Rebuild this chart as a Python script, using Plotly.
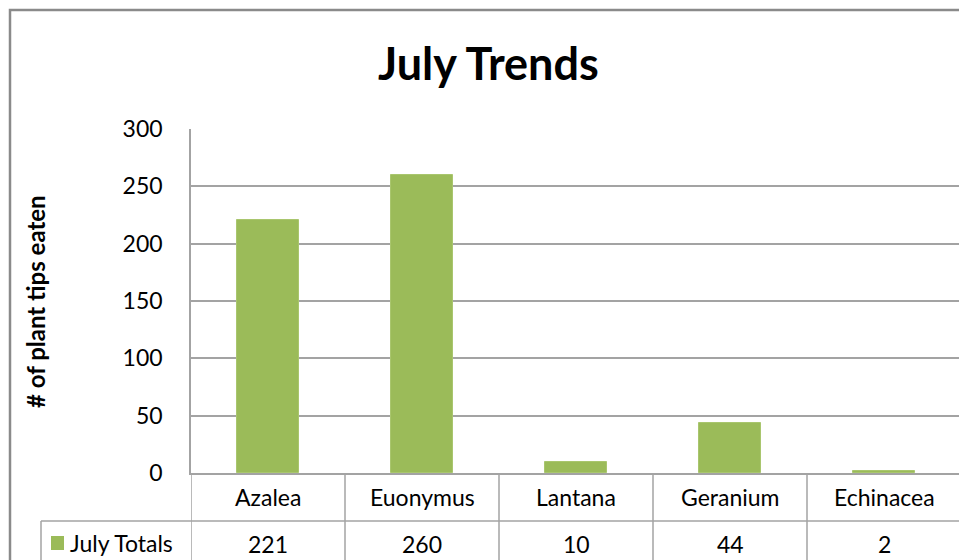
import plotly.graph_objects as go

categories = ["Azalea", "Euonymus", "Lantana", "Geranium", "Echinacea"]
july_totals = [221, 260, 10, 44, 2]
series_name = "July Totals"
y_ticks = [0, 50, 100, 150, 200, 250, 300]

W, H = 959, 560
L, T, B = 191, 129, 87
R = 0
PW = W - L - R
PH = H - T - B
FONT = "Lato"
GREEN = "#9BBB59"
GRID = "#A3A3A3"

def px(x):
    return (x - L) / PW

def py(y):
    return (H - B - y) / PH

x_idx = list(range(len(categories)))
cat_w = 154.0
span = PW / cat_w

fig = go.Figure()
fig.add_trace(go.Bar(
    x=x_idx, y=july_totals, width=0.4, name=series_name,
    marker=dict(color=GREEN, line=dict(color="#A9C66E", width=1)),
    showlegend=False, hoverinfo="x+y",
))

annotations = []
shapes = []

# title
annotations.append(dict(text="<b>July Trends</b>", x=px(488), y=py(63), xref="paper", yref="paper",
                        showarrow=False, xanchor="center", yanchor="middle",
                        font=dict(family=FONT, size=45, color="#000000")))
# y axis title
annotations.append(dict(text="<b># of plant tips eaten</b>", x=px(35), y=py(302), xref="paper", yref="paper",
                        showarrow=False, textangle=-90, xanchor="center", yanchor="middle",
                        font=dict(family=FONT, size=24, color="#000000")))

# data table: category row and value row
for i, (c, v) in enumerate(zip(categories, july_totals)):
    annotations.append(dict(text=c, x=i, y=py(497), xref="x", yref="paper", showarrow=False,
                            xanchor="center", yanchor="middle",
                            font=dict(family=FONT, size=23, color="#000000")))
    annotations.append(dict(text=str(v), x=i, y=py(544), xref="x", yref="paper", showarrow=False,
                            xanchor="center", yanchor="middle",
                            font=dict(family=FONT, size=23, color="#000000")))

# legend key in table
annotations.append(dict(text=series_name, x=px(68), y=py(543), xref="paper", yref="paper", showarrow=False,
                        xanchor="left", yanchor="middle",
                        font=dict(family=FONT, size=23, color="#000000")))
shapes.append(dict(type="rect", xref="paper", yref="paper", x0=px(51), x1=px(64), y0=py(536), y1=py(550),
                   fillcolor=GREEN, line=dict(width=0)))

# table lines
for i in range(len(categories)):
    xb = i - 0.5
    shapes.append(dict(type="line", xref="x", yref="paper", x0=xb, x1=xb, y0=0, y1=py(575),
                       line=dict(color=GRID, width=1.5)))
shapes.append(dict(type="line", xref="paper", yref="paper", x0=px(41), x1=px(975), y0=py(521), y1=py(521),
                   line=dict(color=GRID, width=1.5)))
shapes.append(dict(type="line", xref="paper", yref="paper", x0=px(41), x1=px(41), y0=py(521), y1=py(575),
                   line=dict(color=GRID, width=1.5)))

# outer chart border
shapes.append(dict(type="rect", xref="paper", yref="paper", x0=px(10), x1=px(990), y0=py(590), y1=py(10),
                   line=dict(color="#8A8A8A", width=2.5), fillcolor="rgba(0,0,0,0)"))

fig.update_layout(
    width=W, height=H,
    margin=dict(l=L, r=R, t=T, b=B, autoexpand=False),
    paper_bgcolor="white", plot_bgcolor="white",
    bargap=0,
    xaxis=dict(range=[-0.5, -0.5 + span], showticklabels=False, showgrid=False, zeroline=False,
               showline=True, linecolor=GRID, linewidth=1.5, ticks="", fixedrange=True),
    yaxis=dict(range=[0, 300], tickvals=y_ticks, ticktext=[str(t) for t in y_ticks],
               showgrid=True, gridcolor=GRID, gridwidth=1.5, zeroline=False,
               showline=True, linecolor=GRID, linewidth=1.5, ticks="",
               ticklabelstandoff=22,
               tickfont=dict(family=FONT, size=23, color="#000000"), fixedrange=True),
    annotations=annotations,
    shapes=shapes,
    showlegend=False,
)

fig.write_html("out.html", config={"displayModeBar": False},
               post_script="document.body.style.margin='0';document.body.style.overflow='hidden';")
